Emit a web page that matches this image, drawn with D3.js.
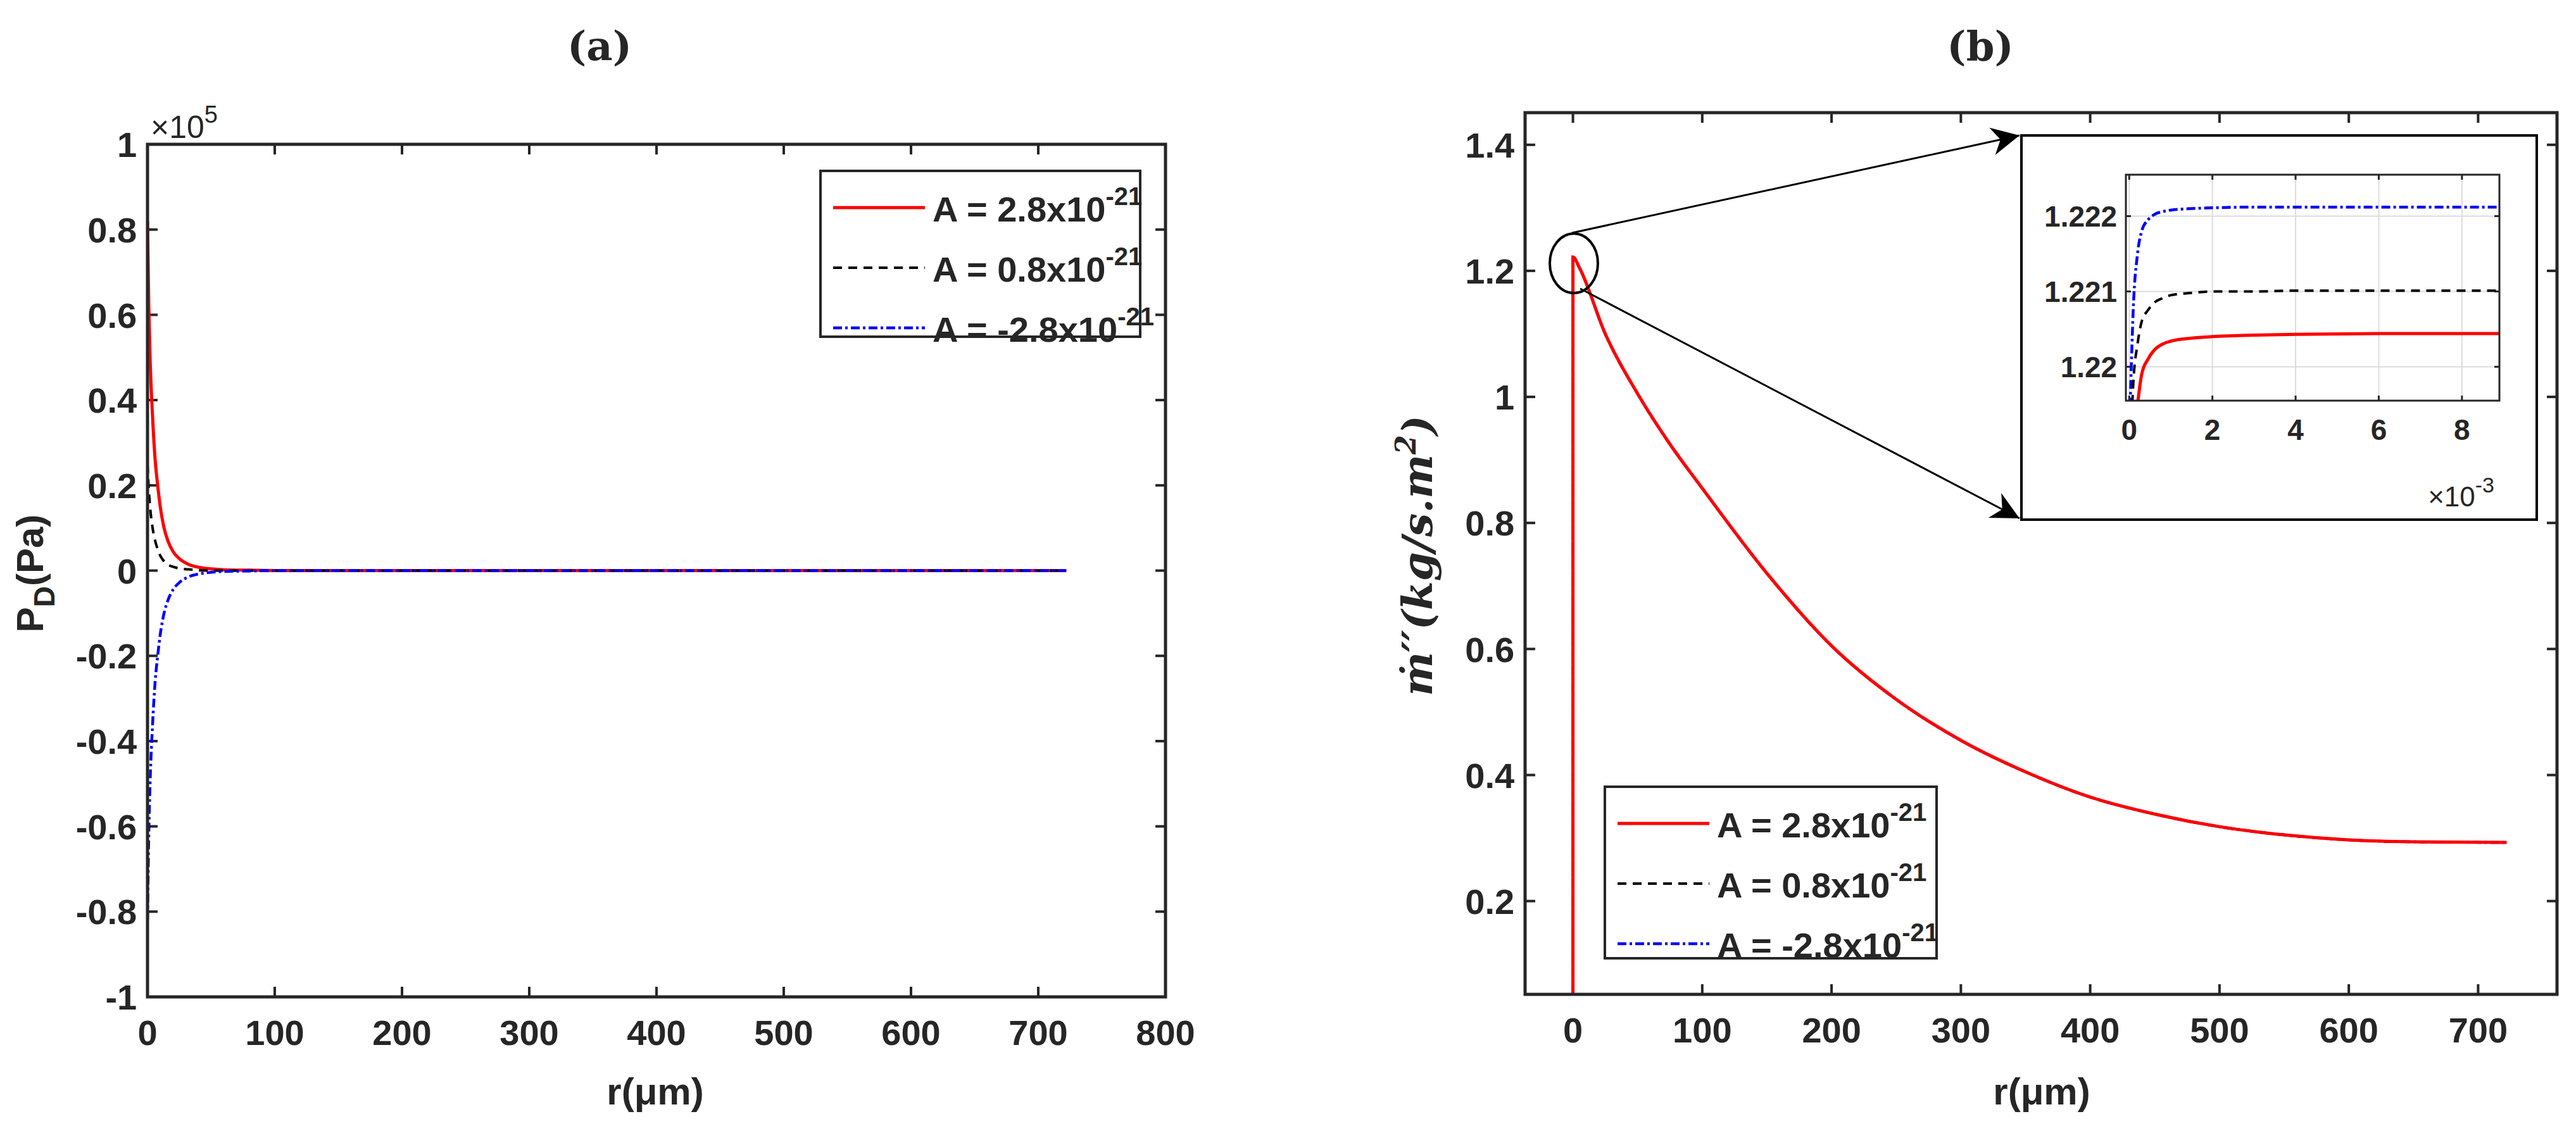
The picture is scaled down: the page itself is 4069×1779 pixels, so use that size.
<!DOCTYPE html>
<html><head><meta charset="utf-8">
<script src="https://cdn.jsdelivr.net/npm/d3@7"></script>
<style>body{margin:0;background:#fff}svg text{font-family:"Liberation Sans Narrow","Arial Narrow","Liberation Sans",sans-serif;font-weight:bold;fill:#262626}</style>
</head><body><svg id="fig" width="4069" height="1779"></svg>
<script>
// panel (a): r (µm) vs P_D (x1e5 Pa)
const aR = [0, 1, 2, 4, 6, 8, 10, 13, 16, 20, 25, 32, 40, 50, 60, 80, 100, 200, 400, 600, 722];
const aRed = [0.82, 0.62, 0.5, 0.36, 0.26, 0.2, 0.15, 0.1, 0.07, 0.045, 0.028, 0.015, 0.008, 0.004, 0.002, 0.001, 0, 0, 0, 0, 0];
const aBlack = [0.25, 0.19, 0.15, 0.1, 0.07, 0.05, 0.035, 0.022, 0.014, 0.009, 0.005, 0.003, 0.001, 0, 0, 0, 0, 0, 0, 0, 0];
const aBlue = aRed.map(v => -v);
const aYTicks = [-1, -0.8, -0.6, -0.4, -0.2, 0, 0.2, 0.4, 0.6, 0.8, 1];
const aXTicks = [0, 100, 200, 300, 400, 500, 600, 700, 800];

// panel (b): r (µm) vs mass flux
const bR = [0, 0.01, 5, 25, 50, 75, 100, 150, 200, 250, 300, 350, 400, 450, 500, 550, 600, 650, 722];
const bVal = [0.052, 1.222, 1.205, 1.1, 1.005, 0.925, 0.855, 0.72, 0.605, 0.52, 0.455, 0.405, 0.365, 0.338, 0.318, 0.305, 0.297, 0.294, 0.293];
const bYTicks = [0.2, 0.4, 0.6, 0.8, 1, 1.2, 1.4];
const bXTicks = [0, 100, 200, 300, 400, 500, 600, 700];

// inset (x1e-3 µm)
const iR = [0, 0.05, 0.1, 0.2, 0.3, 0.45, 0.6, 0.8, 1, 1.5, 2, 3, 4, 6, 9];
const iBlue = [1.2190, 1.2200, 1.2208, 1.2215, 1.2218, 1.22195, 1.22202, 1.22206, 1.22208, 1.2221, 1.22211, 1.22212, 1.22212, 1.22212, 1.22212];
const iBlack = [1.2185, 1.2192, 1.2198, 1.2203, 1.2206, 1.22075, 1.22085, 1.22091, 1.22095, 1.22098, 1.221, 1.221, 1.22101, 1.22101, 1.22101];
const iRed = [1.2180, 1.2186, 1.2190, 1.2195, 1.2199, 1.2201, 1.22022, 1.2203, 1.22034, 1.22038, 1.2204, 1.22042, 1.22043, 1.22044, 1.22044];
const iYTicks = [1.22, 1.221, 1.222];
const iXTicks = [0, 2, 4, 6, 8];

const legendLabels = ['2.8', '0.8', '-2.8'];
const styles = [
  {color: '#ff0000', dash: null, w: 5},
  {color: '#000000', dash: '14,10', w: 4},
  {color: '#0000ff', dash: '14,5,4,5', w: 4.5},
];
const ink = '#262626';
const svg = d3.select('#fig');

function frame(g, x, y, xt, yt, opt) {
  const [x0, x1] = x.range(), [y0, y1] = y.range();
  const tl = opt.tickLen, fs = opt.fs;
  if (opt.grid) {
    g.selectAll('.gx').data(xt).join('line').attr('x1', d => x(d)).attr('x2', d => x(d))
      .attr('y1', y0).attr('y2', y1).attr('stroke', '#dcdcdc').attr('stroke-width', 2);
    g.selectAll('.gy').data(yt).join('line').attr('y1', d => y(d)).attr('y2', d => y(d))
      .attr('x1', x0).attr('x2', x1).attr('stroke', '#dcdcdc').attr('stroke-width', 2);
  }
  const t = g.append('g');
  xt.forEach(d => {
    t.append('line').attr('x1', x(d)).attr('x2', x(d)).attr('y1', y0).attr('y2', y0 - tl);
    t.append('line').attr('x1', x(d)).attr('x2', x(d)).attr('y1', y1).attr('y2', y1 + tl);
    g.append('text').attr('x', x(d)).attr('y', y0 + fs * 1.35).attr('text-anchor', 'middle')
      .attr('font-size', fs).text(d);
  });
  yt.forEach(d => {
    t.append('line').attr('y1', y(d)).attr('y2', y(d)).attr('x1', x0).attr('x2', x0 + tl);
    t.append('line').attr('y1', y(d)).attr('y2', y(d)).attr('x1', x1).attr('x2', x1 - tl);
    g.append('text').attr('x', x0 - fs * 0.3).attr('y', y(d) + fs * 0.36).attr('text-anchor', 'end')
      .attr('font-size', fs).text(d);
  });
  t.attr('stroke', ink).attr('stroke-width', opt.sw);
}
function box(g, x, y, sw) {
  const [x0, x1] = x.range(), [y0, y1] = y.range();
  g.append('rect').attr('x', x0).attr('y', y1).attr('width', x1 - x0).attr('height', y0 - y1)
    .attr('fill', 'none').attr('stroke', ink).attr('stroke-width', sw);
}
function curve(g, x, y, xs, ys, s, clip) {
  g.append('path').datum(xs.map((d, i) => [d, ys[i]]))
    .attr('d', d3.line().x(d => x(d[0])).y(d => y(d[1])).curve(d3.curveMonotoneX))
    .attr('fill', 'none').attr('stroke', s.color).attr('stroke-width', s.w)
    .attr('stroke-dasharray', s.dash).attr('clip-path', clip);
}
function legend(g, x0, y0, w, h) {
  g.append('rect').attr('x', x0).attr('y', y0).attr('width', w).attr('height', h)
    .attr('fill', '#fff').attr('stroke', ink).attr('stroke-width', 4);
  styles.forEach((s, i) => {
    const yy = y0 + 58 + i * 95;
    g.append('line').attr('x1', x0 + 20).attr('x2', x0 + 165).attr('y1', yy).attr('y2', yy)
      .attr('stroke', s.color).attr('stroke-width', s.w).attr('stroke-dasharray', s.dash);
    const t = g.append('text').attr('x', x0 + 177).attr('y', yy + 22).attr('font-size', 56);
    t.append('tspan').text('A = ' + legendLabels[i] + 'x10');
    t.append('tspan').attr('dy', -26).attr('font-size', 40).text('-21');
  });
}
const defs = svg.append('defs');

// ---- panel (a)
const ax = d3.scaleLinear().domain([0, 800]).range([233, 1841]);
const ay = d3.scaleLinear().domain([-1, 1]).range([1575, 228]);
const ga = svg.append('g');
defs.append('clipPath').attr('id', 'ca').append('rect').attr('x', 233).attr('y', 228).attr('width', 1608).attr('height', 1347);
frame(ga, ax, ay, aXTicks, aYTicks, {tickLen: 16, fs: 56, sw: 4});
[aRed, aBlack, aBlue].forEach((v, i) => curve(ga, ax, ay, aR, v, styles[i], 'url(#ca)'));
box(ga, ax, ay, 5);
const xa = ga.append('text').attr('x', 238).attr('y', 218).attr('font-size', 50).style('font-weight', 'normal');
xa.append('tspan').text('×10');
xa.append('tspan').attr('dy', -24).attr('font-size', 38).text('5');
legend(ga, 1296, 270, 505, 262);
ga.append('text').attr('x', 1035).attr('y', 1745).attr('text-anchor', 'middle').attr('font-size', 60).text('r(μm)');
const yla = ga.append('text').attr('transform', 'translate(68,906) rotate(-90)').attr('text-anchor', 'middle').attr('font-size', 60);
yla.append('tspan').text('P');
yla.append('tspan').attr('dy', 18).attr('font-size', 46).text('D');
yla.append('tspan').attr('dy', -18).text('(Pa)');
svg.append('text').attr('x', 947).attr('y', 95).attr('text-anchor', 'middle').attr('font-size', 64)
  .style('font-family', '"DejaVu Serif","Liberation Serif",serif').text('(a)');

// ---- panel (b)
const bx = d3.scaleLinear().domain([-37, 761]).range([2409, 4039]);
const by = d3.scaleLinear().domain([0.052, 1.451]).range([1571, 178]);
const gb = svg.append('g');
defs.append('clipPath').attr('id', 'cb').append('rect').attr('x', 2409).attr('y', 178).attr('width', 1630).attr('height', 1393);
frame(gb, bx, by, bXTicks, bYTicks, {tickLen: 16, fs: 56, sw: 4});
[2, 1, 0].forEach(i => curve(gb, bx, by, bR, bVal, styles[i], 'url(#cb)'));
box(gb, bx, by, 5);
legend(gb, 2535, 1243, 524, 271);
gb.append('text').attr('x', 3225).attr('y', 1745).attr('text-anchor', 'middle').attr('font-size', 60).text('r(μm)');
gb.append('text').attr('transform', 'translate(2262,878) rotate(-90)').attr('text-anchor', 'middle')
  .attr('font-size', 66).style('font-family', '"DejaVu Serif","Liberation Serif",serif')
  .style('font-style', 'italic').html('ṁ′′(kg/s.m<tspan dy="-26" font-size="44">2</tspan><tspan dy="26">)</tspan>');
svg.append('text').attr('x', 3128).attr('y', 95).attr('text-anchor', 'middle').attr('font-size', 64)
  .style('font-family', '"DejaVu Serif","Liberation Serif",serif').text('(b)');

// zoom marker and arrows
gb.append('ellipse').attr('cx', 2486).attr('cy', 416).attr('rx', 38).attr('ry', 47)
  .attr('fill', 'none').attr('stroke', '#000').attr('stroke-width', 4);
defs.append('marker').attr('id', 'ah').attr('viewBox', '0 0 10 10').attr('refX', 10).attr('refY', 5)
  .attr('markerWidth', 16).attr('markerHeight', 12).attr('markerUnits', 'userSpaceOnUse').attr('orient', 'auto')
  .append('path').attr('d', 'M0,0 L10,5 L0,10 L3,5 Z').attr('fill', '#000');
defs.select('#ah').attr('markerWidth', 60).attr('markerHeight', 44);
[[2483, 368, 3190, 214], [2496, 456, 3190, 819]].forEach(p => {
  gb.append('line').attr('x1', p[0]).attr('y1', p[1]).attr('x2', p[2]).attr('y2', p[3])
    .attr('stroke', '#000').attr('stroke-width', 3).attr('marker-end', 'url(#ah)');
});

// inset
gb.append('rect').attr('x', 3193).attr('y', 214).attr('width', 814).attr('height', 607)
  .attr('fill', '#fff').attr('stroke', '#000').attr('stroke-width', 4);
const ix = d3.scaleLinear().domain([-0.08, 8.9]).range([3358, 3948]);
const iy = d3.scaleLinear().domain([1.21955, 1.22255]).range([633, 276]);
const gi = gb.append('g');
defs.append('clipPath').attr('id', 'ci').append('rect').attr('x', 3358).attr('y', 276).attr('width', 590).attr('height', 357);
frame(gi, ix, iy, iXTicks, iYTicks, {tickLen: 8, fs: 46, sw: 3, grid: true});
[iBlue, iBlack, iRed].forEach((v, i) => curve(gi, ix, iy, iR, v, styles[2 - i], 'url(#ci)'));
box(gi, ix, iy, 3);
const xi = gi.append('text').attr('x', 3940).attr('y', 800).attr('text-anchor', 'end').attr('font-size', 44).style('font-weight', 'normal');
xi.append('tspan').text('×10');
xi.append('tspan').attr('dy', -22).attr('font-size', 34).text('-3');
</script></body></html>
